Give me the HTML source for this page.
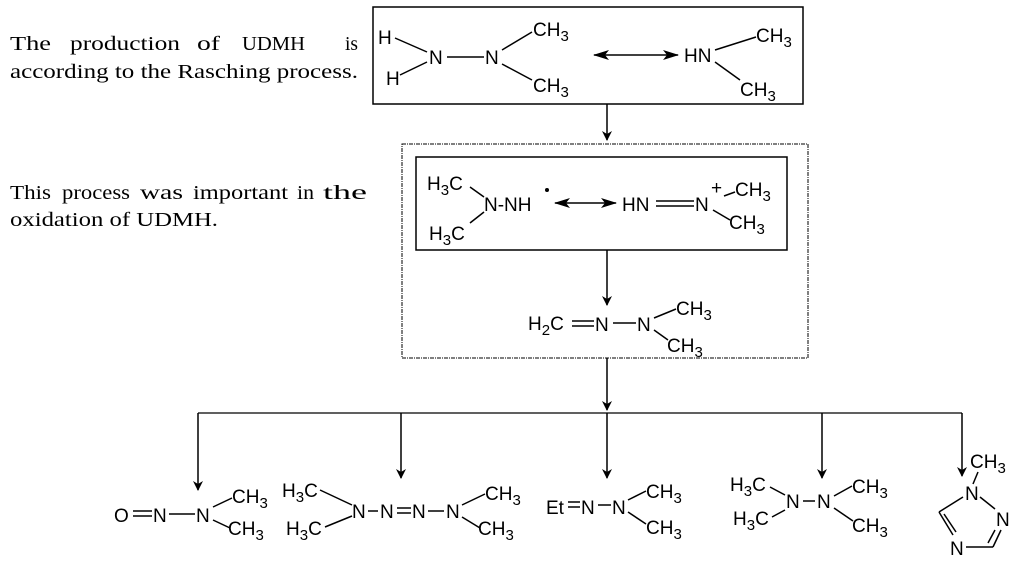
<!DOCTYPE html>
<html><head><meta charset="utf-8"><style>
body{margin:0;background:#fff;}
svg{display:block;}
.s{font-family:"Liberation Sans",Arial,sans-serif;font-size:19px;fill:#000;}
.t{font-family:"Liberation Serif",serif;font-size:20px;fill:#000;}
line,path,rect{stroke:#000;fill:none;stroke-width:1.5;}
</style></head><body>
<svg width="1024" height="563" viewBox="0 0 1024 563" xmlns="http://www.w3.org/2000/svg">
<defs><marker id="a" markerWidth="10" markerHeight="10" refX="9" refY="5" orient="auto" markerUnits="userSpaceOnUse"><path d="M0,0 L10,5 L0,10 L3,5 z" style="fill:#000;stroke:none"/></marker>
<marker id="b" markerWidth="16" markerHeight="10" refX="15" refY="5" orient="auto-start-reverse" markerUnits="userSpaceOnUse"><path d="M0,0 L16,5 L0,10 L4,5 z" style="fill:#000;stroke:none"/></marker></defs>

<g class="t">
<text class="t" x="10" y="50" textLength="41" lengthAdjust="spacingAndGlyphs">The</text>
<text class="t" x="70" y="50" textLength="110" lengthAdjust="spacingAndGlyphs">production</text>
<text class="t" x="197" y="50" textLength="23" lengthAdjust="spacingAndGlyphs">of</text>
<text class="t" x="242" y="50" textLength="63" lengthAdjust="spacingAndGlyphs">UDMH</text>
<text class="t" x="345" y="50" textLength="13" lengthAdjust="spacingAndGlyphs">is</text>
<text class="t" x="10" y="78" textLength="348" lengthAdjust="spacingAndGlyphs">according to the Rasching process.</text>
<text class="t" x="10" y="199" textLength="41" lengthAdjust="spacingAndGlyphs">This</text>
<text class="t" x="62" y="199" textLength="68" lengthAdjust="spacingAndGlyphs">process</text>
<text class="t" x="140" y="199" textLength="43" lengthAdjust="spacingAndGlyphs">was</text>
<text class="t" x="193" y="199" textLength="95" lengthAdjust="spacingAndGlyphs">important</text>
<text class="t" x="297" y="199" textLength="17" lengthAdjust="spacingAndGlyphs">in</text>
<text class="t" x="323" y="199" textLength="44" lengthAdjust="spacingAndGlyphs">the</text>
<text class="t" x="10" y="226" textLength="208" lengthAdjust="spacingAndGlyphs">oxidation of UDMH.</text>
</g>

<rect x="373" y="7" width="430" height="97"/>
<text class="s" x="378" y="44">H</text>
<text class="s" x="386" y="85">H</text>
<line x1="395" y1="38" x2="427" y2="52"/><line x1="400" y1="75" x2="427" y2="62"/>
<text class="s" x="429" y="64">N</text>
<line x1="447" y1="57" x2="484" y2="57"/>
<text class="s" x="485" y="64">N</text>
<line x1="502" y1="50" x2="532" y2="32"/><line x1="502" y1="64" x2="532" y2="80"/>
<text class="s" x="533" y="36">CH<tspan dy="5" font-size="15">3</tspan></text>
<text class="s" x="533" y="92">CH<tspan dy="5" font-size="15">3</tspan></text>
<line x1="594" y1="55" x2="678" y2="55" marker-end="url(#b)" marker-start="url(#b)"/>
<text class="s" x="684" y="62">HN</text>
<line x1="715" y1="50" x2="756" y2="37"/><line x1="715" y1="62" x2="740" y2="80"/>
<text class="s" x="756" y="42">CH<tspan dy="5" font-size="15">3</tspan></text>
<text class="s" x="740" y="96">CH<tspan dy="5" font-size="15">3</tspan></text>

<line x1="607" y1="104" x2="607" y2="140" marker-end="url(#a)"/>
<rect x="402" y="144" width="406" height="214" stroke-dasharray="4,1,1,1" style="stroke-width:1"/>
<rect x="416" y="157" width="371" height="93"/>
<text class="s" x="427" y="190">H<tspan dy="5" font-size="15">3</tspan><tspan dy="-5">C</tspan></text>
<text class="s" x="429" y="240">H<tspan dy="5" font-size="15">3</tspan><tspan dy="-5">C</tspan></text>
<line x1="470" y1="187" x2="484" y2="197"/><line x1="470" y1="223" x2="484" y2="212"/>
<text class="s" x="484" y="211">N-NH</text>
<circle cx="547" cy="190" r="2" style="fill:#000"/>
<line x1="555" y1="203" x2="616" y2="203" marker-end="url(#b)" marker-start="url(#b)"/>
<text class="s" x="622" y="211">HN</text>
<line x1="656" y1="201" x2="694" y2="201"/><line x1="656" y1="206" x2="694" y2="206"/>
<text class="s" x="695" y="211">N</text>
<text class="s" x="711" y="194" font-size="14">+</text>
<line x1="724" y1="196" x2="735" y2="192"/><line x1="713" y1="210" x2="730" y2="220"/>
<text class="s" x="735" y="196">CH<tspan dy="5" font-size="15">3</tspan></text>
<text class="s" x="729" y="229">CH<tspan dy="5" font-size="15">3</tspan></text>
<line x1="607" y1="250" x2="607" y2="305" marker-end="url(#a)"/>
<text class="s" x="528" y="330">H<tspan dy="5" font-size="15">2</tspan><tspan dy="-5">C</tspan></text>
<line x1="572" y1="321" x2="594" y2="321"/><line x1="572" y1="326" x2="594" y2="326"/>
<text class="s" x="595" y="331">N</text>
<line x1="613" y1="323" x2="636" y2="323"/>
<text class="s" x="637" y="331">N</text>
<line x1="654" y1="318" x2="676" y2="309"/><line x1="654" y1="330" x2="668" y2="340"/>
<text class="s" x="676" y="315">CH<tspan dy="5" font-size="15">3</tspan></text>
<text class="s" x="667" y="352">CH<tspan dy="5" font-size="15">3</tspan></text>

<line x1="607" y1="358" x2="607" y2="410" marker-end="url(#a)"/>
<line x1="198" y1="413" x2="962" y2="413" style="stroke-width:1.2"/>
<line x1="198" y1="413" x2="198" y2="490" marker-end="url(#a)"/>
<line x1="401" y1="413" x2="401" y2="478" marker-end="url(#a)"/>
<line x1="607" y1="413" x2="607" y2="478" marker-end="url(#a)"/>
<line x1="822" y1="413" x2="822" y2="478" marker-end="url(#a)"/>
<line x1="962" y1="413" x2="962" y2="476" marker-end="url(#a)"/>

<text class="s" x="114" y="522">O</text>
<line x1="133" y1="511" x2="152" y2="511"/><line x1="133" y1="516" x2="152" y2="516"/>
<text class="s" x="153" y="522">N</text>
<line x1="169" y1="514" x2="195" y2="514"/>
<text class="s" x="196" y="522">N</text>
<line x1="213" y1="507" x2="232" y2="498"/><line x1="213" y1="520" x2="230" y2="528"/>
<text class="s" x="232" y="503">CH<tspan dy="5" font-size="15">3</tspan></text>
<text class="s" x="228" y="535">CH<tspan dy="5" font-size="15">3</tspan></text>

<text class="s" x="282" y="497">H<tspan dy="5" font-size="15">3</tspan><tspan dy="-5">C</tspan></text>
<text class="s" x="286" y="535">H<tspan dy="5" font-size="15">3</tspan><tspan dy="-5">C</tspan></text>
<line x1="320" y1="490" x2="352" y2="505"/><line x1="325" y1="527" x2="352" y2="516"/>
<text class="s" x="352" y="518">N</text>
<line x1="368" y1="511" x2="378" y2="511"/>
<text class="s" x="380" y="518">N</text>
<line x1="397" y1="508" x2="411" y2="508"/><line x1="397" y1="513" x2="411" y2="513"/>
<text class="s" x="412" y="518">N</text>
<line x1="428" y1="511" x2="444" y2="511"/>
<text class="s" x="446" y="518">N</text>
<line x1="462" y1="505" x2="485" y2="494"/><line x1="462" y1="517" x2="480" y2="528"/>
<text class="s" x="485" y="500">CH<tspan dy="5" font-size="15">3</tspan></text>
<text class="s" x="478" y="535">CH<tspan dy="5" font-size="15">3</tspan></text>

<text class="s" x="546" y="514">Et</text>
<line x1="568" y1="502" x2="580" y2="502"/><line x1="568" y1="507" x2="580" y2="507"/>
<text class="s" x="581" y="514">N</text>
<line x1="598" y1="505" x2="611" y2="505"/>
<text class="s" x="612" y="514">N</text>
<line x1="628" y1="500" x2="646" y2="491"/><line x1="628" y1="512" x2="646" y2="524"/>
<text class="s" x="646" y="498">CH<tspan dy="5" font-size="15">3</tspan></text>
<text class="s" x="646" y="534">CH<tspan dy="5" font-size="15">3</tspan></text>

<text class="s" x="730" y="491">H<tspan dy="5" font-size="15">3</tspan><tspan dy="-5">C</tspan></text>
<text class="s" x="733" y="525">H<tspan dy="5" font-size="15">3</tspan><tspan dy="-5">C</tspan></text>
<line x1="770" y1="487" x2="785" y2="495"/><line x1="772" y1="517" x2="785" y2="510"/>
<text class="s" x="786" y="508">N</text>
<line x1="803" y1="501" x2="815" y2="501"/>
<text class="s" x="817" y="508">N</text>
<line x1="834" y1="496" x2="852" y2="486"/><line x1="834" y1="508" x2="853" y2="521"/>
<text class="s" x="852" y="493">CH<tspan dy="5" font-size="15">3</tspan></text>
<text class="s" x="852" y="532">CH<tspan dy="5" font-size="15">3</tspan></text>

<text class="s" x="970" y="468">CH<tspan dy="5" font-size="15">3</tspan></text>
<line x1="978" y1="472" x2="973" y2="484"/>
<text class="s" x="965" y="500">N</text>
<line x1="963" y1="497" x2="939" y2="512"/>
<line x1="980" y1="497" x2="995" y2="509"/>
<text class="s" x="996" y="526">N</text>
<line x1="939" y1="512" x2="953" y2="535"/><line x1="944" y1="514" x2="956" y2="532"/>
<text class="s" x="950" y="555">N</text>
<line x1="966" y1="547" x2="993" y2="547"/>
<line x1="993" y1="547" x2="1001" y2="530"/><line x1="988" y1="543" x2="995" y2="530"/>
</svg>
</body></html>
